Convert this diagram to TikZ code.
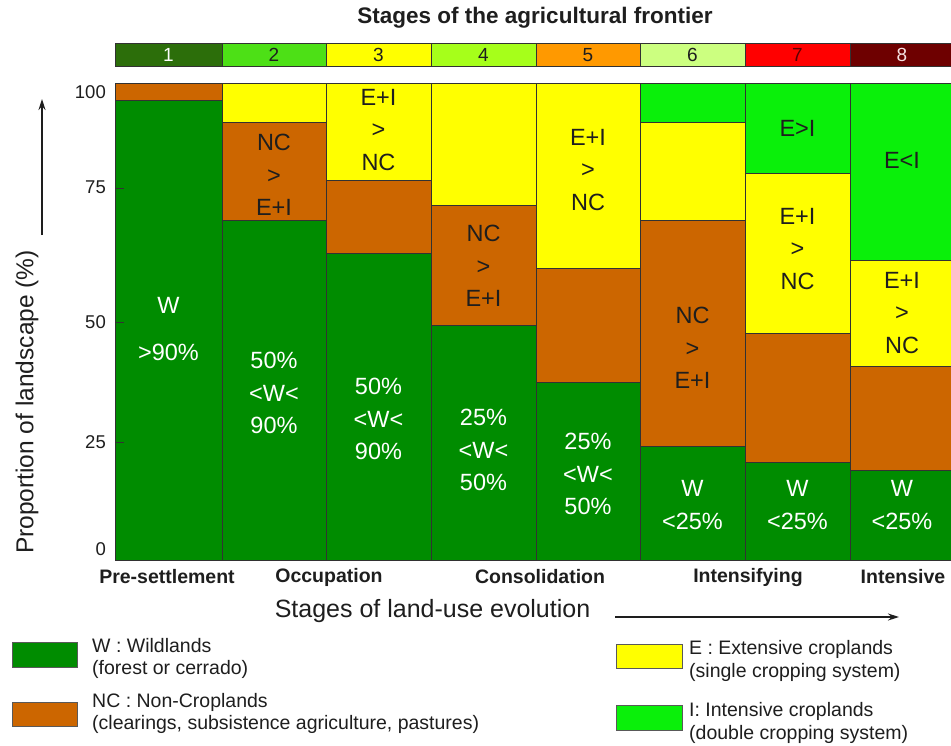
\documentclass[tikz,border=0pt]{standalone}
\usepackage{fontspec}
\setmainfont{Liberation Sans}
\usetikzlibrary{arrows.meta}
\definecolor{wcol}{RGB}{0,140,0}
\definecolor{nccol}{RGB}{204,102,0}
\definecolor{ecol}{RGB}{255,255,0}
\definecolor{icol}{RGB}{10,240,10}
\definecolor{sa}{RGB}{44,110,10}
\definecolor{sb}{RGB}{77,224,22}
\definecolor{sc}{RGB}{255,255,0}
\definecolor{sd}{RGB}{166,255,26}
\definecolor{se}{RGB}{255,153,0}
\definecolor{sf}{RGB}{204,255,128}
\definecolor{sg}{RGB}{255,0,0}
\definecolor{sh}{RGB}{110,0,0}
\definecolor{ink}{RGB}{30,30,30}
\definecolor{edge}{RGB}{50,50,50}
\tikzset{
  segbox/.style={draw=edge, line width=0.8pt},
  wseg/.style={segbox, fill=wcol},
  ncseg/.style={segbox, fill=nccol},
  eseg/.style={segbox, fill=ecol},
  iseg/.style={segbox, fill=icol},
  stagebox/.style={draw=edge, line width=0.8pt},
  stagenum/.style={font=\fontsize{19}{19}\selectfont, inner sep=0pt, anchor=center},
  darklbl/.style={font=\fontsize{23.5}{32.5}\selectfont, text=ink, align=center, inner sep=0pt},
  whitelbl/.style={font=\fontsize{23.5}{32.5}\selectfont, text=white, align=center, inner sep=0pt},
  ticklbl/.style={font=\fontsize{18.5}{18.5}\selectfont, text=ink, anchor=east, inner sep=0pt},
  phaselbl/.style={font=\bfseries\fontsize{19.5}{19.5}\selectfont, text=ink, inner sep=0pt},
  legtxt/.style={font=\fontsize{19.5}{19.5}\selectfont, text=ink, anchor=base west, inner sep=0pt},
  legbox/.style={draw=black!65, line width=0.8pt},
  axarrow/.style={-{Stealth[length=11pt,width=7pt]}, line width=1.4pt, draw=ink},
}
\begin{document}
\begin{tikzpicture}[x=1pt,y=-1pt]
\useasboundingbox[fill=white] (0,0) rectangle (951,745);

% title
\node[font=\bfseries\fontsize{22.5}{22.5}\selectfont, text=ink, inner sep=0pt] (title) at (535,18) {Stages of the agricultural frontier};

% stage bar
\draw[stagebox, fill=sa] (115,43) rectangle (222,66);
\draw[stagebox, fill=sb] (222,43) rectangle (326,66);
\draw[stagebox, fill=sc] (326,43) rectangle (431,66);
\draw[stagebox, fill=sd] (431,43) rectangle (536,66);
\draw[stagebox, fill=se] (536,43) rectangle (640,66);
\draw[stagebox, fill=sf] (640,43) rectangle (745,66);
\draw[stagebox, fill=sg] (745,43) rectangle (850,66);
\draw[stagebox, fill=sh] (850,43) rectangle (956,66);
\node[stagenum, text=white] (n1) at (168.5,55) {1};
\node[stagenum, text=ink] (n2) at (274,55) {2};
\node[stagenum, text=ink] (n3) at (378.5,55) {3};
\node[stagenum, text=ink] (n4) at (483.5,55) {4};
\node[stagenum, text=ink] (n5) at (588,55) {5};
\node[stagenum, text=ink] (n6) at (692.5,55) {6};
\node[stagenum, text={rgb,255:red,90;green,0;blue,0}] (n7) at (797.5,55) {7};
\node[stagenum, text={rgb,255:red,245;green,225;blue,225}] (n8) at (902,55) {8};

% column 1
\draw[ncseg] (115,83) rectangle (222,100);
\draw[wseg] (115,100) rectangle (222,560);
% column 2
\draw[eseg] (222,83) rectangle (326,122);
\draw[ncseg] (222,122) rectangle (326,220);
\draw[wseg] (222,220) rectangle (326,560);
% column 3
\draw[eseg] (326,83) rectangle (431,180);
\draw[ncseg] (326,180) rectangle (431,253);
\draw[wseg] (326,253) rectangle (431,560);
% column 4
\draw[eseg] (431,83) rectangle (536,205);
\draw[ncseg] (431,205) rectangle (536,325);
\draw[wseg] (431,325) rectangle (536,560);
% column 5
\draw[eseg] (536,83) rectangle (640,268);
\draw[ncseg] (536,268) rectangle (640,382);
\draw[wseg] (536,382) rectangle (640,560);
% column 6
\draw[iseg] (640,83) rectangle (745,122);
\draw[eseg] (640,122) rectangle (745,220);
\draw[ncseg] (640,220) rectangle (745,446);
\draw[wseg] (640,446) rectangle (745,560);
% column 7
\draw[iseg] (745,83) rectangle (850,173);
\draw[eseg] (745,173) rectangle (850,333);
\draw[ncseg] (745,333) rectangle (850,462);
\draw[wseg] (745,462) rectangle (850,560);
% column 8
\draw[iseg] (850,83) rectangle (956,260);
\draw[eseg] (850,260) rectangle (956,366);
\draw[ncseg] (850,366) rectangle (956,470);
\draw[wseg] (850,470) rectangle (956,560);

% labels in columns
\node[whitelbl, font=\fontsize{23.5}{47}\selectfont] (w1) at (168.5,329) {W\\>90\%};
\node[darklbl] (nc2) at (274,175) {NC\\>\\E+I};
\node[whitelbl] (w2) at (274,393) {50\%\\<W<\\90\%};
\node[darklbl] (e3) at (378.5,130) {E+I\\>\\NC};
\node[whitelbl] (w3) at (378.5,419) {50\%\\<W<\\90\%};
\node[darklbl] (nc4) at (483.5,266) {NC\\>\\E+I};
\node[whitelbl] (w4) at (483.5,450) {25\%\\<W<\\50\%};
\node[darklbl] (e5) at (588,170) {E+I\\>\\NC};
\node[whitelbl] (w5) at (588,474) {25\%\\<W<\\50\%};
\node[darklbl] (nc6) at (692.5,348) {NC\\>\\E+I};
\node[whitelbl] (w6) at (692.5,505) {W\\<25\%};
\node[darklbl] (i7) at (797.5,128) {E>I};
\node[darklbl] (e7) at (797.5,249) {E+I\\>\\NC};
\node[whitelbl] (w7) at (797.5,505) {W\\<25\%};
\node[darklbl] (i8) at (902,160) {E<I};
\node[darklbl] (e8) at (902,313) {E+I\\>\\NC};
\node[whitelbl] (w8) at (902,505) {W\\<25\%};

% y axis ticks and labels
\draw[edge, line width=0.8pt] (115,188) -- (124,188);
\draw[edge, line width=0.8pt] (115,322) -- (124,322);
\draw[edge, line width=0.8pt] (115,442) -- (124,442);
\node[ticklbl] (t100) at (106,92) {100};
\node[ticklbl] (t75) at (106,187) {75};
\node[ticklbl] (t50) at (106,322) {50};
\node[ticklbl] (t25) at (106,442) {25};
\node[ticklbl] (t0) at (106,549) {0};

% y axis title and arrow
\node[font=\fontsize{24.5}{24.5}\selectfont, text=ink, rotate=90, inner sep=0pt] (ytitle) at (27,402) {Proportion of landscape (\%)};
\coordinate (yarrS) at (42,235);
\coordinate (yarrE) at (42,99);
\draw[axarrow] (yarrS) -- (yarrE);

% phase labels
\node[phaselbl] (p1) at (167,577) {Pre-settlement};
\node[phaselbl] (p2) at (329,577) {Occupation};
\node[phaselbl] (p3) at (540,577) {Consolidation};
\node[phaselbl] (p4) at (748,577) {Intensifying};
\node[phaselbl] (p5) at (903,577) {Intensive};

% x axis title and arrow
\node[font=\fontsize{25}{25}\selectfont, text=ink, inner sep=0pt] (xtitle) at (432.5,611) {Stages of land-use evolution};
\coordinate (xarrS) at (615,617);
\coordinate (xarrE) at (899,617);
\draw[axarrow] (xarrS) -- (xarrE);

% legend
\draw[legbox, fill=wcol] (12,642) rectangle (77,667);
\draw[legbox, fill=nccol] (12,702) rectangle (77,726);
\draw[legbox, fill=ecol] (616,644) rectangle (682,668);
\draw[legbox, fill=icol] (616,705) rectangle (682,730);
\node[legtxt] (lw1) at (92,652) {W : Wildlands};
\node[legtxt] (lw2) at (92,674) {(forest or cerrado)};
\node[legtxt] (lnc1) at (92,707) {NC : Non-Croplands};
\node[legtxt] (lnc2) at (92,729) {(clearings, subsistence agriculture, pastures)};
\node[legtxt] (le1) at (689,654) {E : Extensive croplands};
\node[legtxt] (le2) at (689,677) {(single cropping system)};
\node[legtxt] (li1) at (689,716) {I: Intensive croplands};
\node[legtxt] (li2) at (689,739) {(double cropping system)};
\end{tikzpicture}
\end{document}
